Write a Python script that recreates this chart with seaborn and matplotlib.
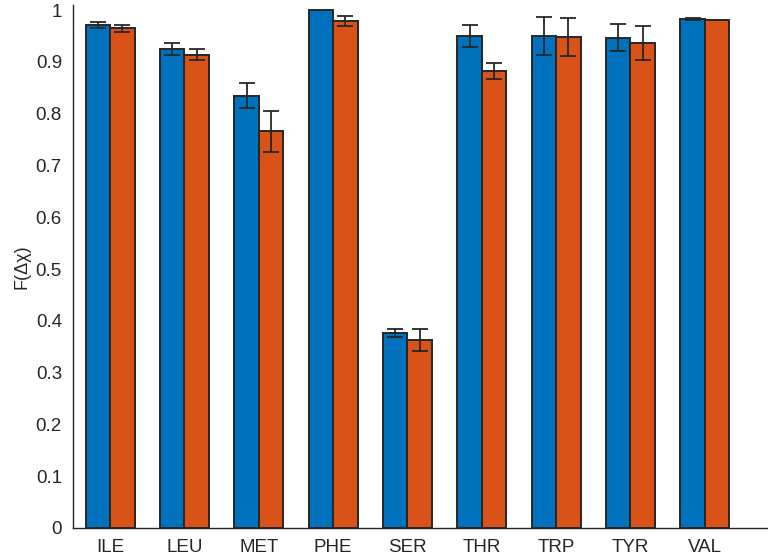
import pandas as pd
import matplotlib
matplotlib.use("Agg")
import matplotlib.pyplot as plt
import seaborn as sns

# values
residues = ['ILE', 'LEU', 'MET', 'PHE', 'SER', 'THR', 'TRP', 'TYR', 'VAL']
blue_vals = [0.972, 0.925, 0.835, 1.000, 0.377, 0.950, 0.950, 0.947, 0.983]
blue_err = [0.006, 0.011, 0.024, 0.0, 0.008, 0.021, 0.037, 0.026, 0.002]
orange_vals = [0.965, 0.914, 0.766, 0.979, 0.363, 0.883, 0.948, 0.937, 0.981]
orange_err = [0.007, 0.011, 0.040, 0.009, 0.021, 0.015, 0.037, 0.033, 0.0]
series = ['A', 'B']
colors = ['#0072BD', '#D95319']

df = pd.DataFrame({
    'residue': residues * 2,
    'value': blue_vals + orange_vals,
    'series': [series[0]] * len(residues) + [series[1]] * len(residues),
})

sns.set_style('white')
plt.rcParams['font.family'] = ['Liberation Sans', 'DejaVu Sans']

fig = plt.figure(figsize=(7.68, 5.56), dpi=100)
ax = fig.add_axes([73 / 768, 28 / 556, 695 / 768, 523 / 556])

sns.barplot(data=df, x='residue', y='value', hue='series', palette=colors,
            width=0.66, errorbar=None, edgecolor='#262626', linewidth=1.4,
            legend=False, ax=ax, saturation=1)

# error bars at the centre of each bar
for cont, errs in zip(ax.containers, [blue_err, orange_err]):
    for patch, e in zip(cont.patches, errs):
        if e <= 0:
            continue
        xc = patch.get_x() + patch.get_width() / 2
        ax.errorbar(xc, patch.get_height(), yerr=e, color='#262626',
                    elinewidth=1.3, capsize=6, capthick=1.3, zorder=5)

ax.set_ylim(0, 1.01)
ax.set_xlim(-0.5, 8.85)
ax.set_yticks([i / 10 for i in range(11)])
ax.set_yticklabels(['0', '0.1', '0.2', '0.3', '0.4', '0.5', '0.6', '0.7',
                    '0.8', '0.9', '1'])
ax.set_xlabel('')
ax.set_ylabel('F(Δχ)', fontsize=13, color='#262626')
ax.tick_params(axis='y', direction='in', length=6, width=1, colors='#262626',
               labelsize=13.5, pad=8)
ax.tick_params(axis='x', length=0, labelsize=13.5, colors='#262626', pad=8)

sns.despine(ax=ax)
for side in ['left', 'bottom']:
    ax.spines[side].set_color('#262626')
    ax.spines[side].set_linewidth(1)

fig.savefig('out.png', dpi=100)
